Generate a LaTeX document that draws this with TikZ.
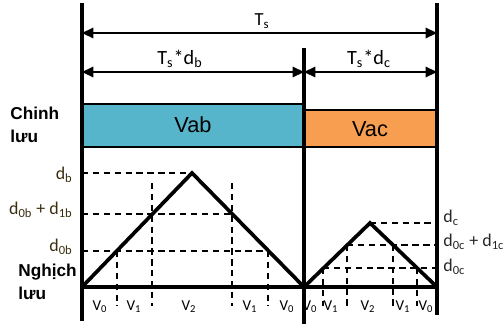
\documentclass[tikz,border=0pt]{standalone}
\usepackage{fontspec}
\setmainfont{Carlito}
\newfontfamily\arialfont{Liberation Sans}
\usepackage{xcolor}
\usetikzlibrary{arrows.meta, positioning, calc}

\definecolor{vabblue}{HTML}{56B4CB}
\definecolor{vacorange}{HTML}{F79E51}
\definecolor{dbrown}{HTML}{3A2E0E}
\definecolor{dgray}{HTML}{262626}

\begin{document}
\begin{tikzpicture}[
    x=0.02cm, y=-0.02cm,
    axis/.style={line width=2.1pt},
    tri/.style={line width=2.1pt, line join=miter},
    guide/.style={line width=0.8pt, dash pattern=on 3.6pt off 2.6pt},
    dim/.style={{Triangle[length=6.5pt,width=6pt]}-{Triangle[length=6.5pt,width=6pt]}, line width=0.9pt},
    vbox/.style={draw, line width=1.2pt},
    rowlbl/.style={font=\arialfont\bfseries\fontsize{9.8}{13.4}\selectfont, align=left, anchor=west, inner sep=0pt},
    dlbl/.style={font=\fontsize{10.2}{11}\selectfont, inner sep=0pt},
    vlbl/.style={font=\fontsize{8.6}{10}\selectfont, inner sep=0pt}
]
\useasboundingbox (0,0) rectangle (504,329);

% Boxes
\draw[vbox, fill=vabblue] (82,104) rectangle (304,147);
\draw[vbox, fill=vacorange] (304,110) rectangle (437,147);
\node[font=\arialfont\fontsize{12.4}{14}\selectfont] (vab) at (193,125) {Vab};
\node[font=\arialfont\fontsize{12.4}{14}\selectfont] (vac) at (370,129) {Vac};

% Main lines
\coordinate (ltop) at (82,3);
\coordinate (lbot) at (82,321);
\coordinate (rtop) at (437,3);
\coordinate (rbot) at (437,315);
\coordinate (mtop) at (304,48);
\coordinate (mbot) at (304,324);
\draw[axis] (ltop) -- (lbot);
\draw[axis] (rtop) -- (rbot);
\draw[axis] (mtop) -- (mbot);

% Dimension arrows
\coordinate (tsl) at (82,33);
\coordinate (tsr) at (437,33);
\coordinate (dbl) at (82,72);
\coordinate (dbr) at (304,72);
\coordinate (dcr) at (437,72);
\draw[dim] (tsl) -- (tsr);
\draw[dim] (dbl) -- (dbr);
\draw[dim] (dbr) -- (dcr);
\node[font=\fontsize{10.5}{12}\selectfont] (ts) at (262,21) {T\textsubscript{s}};
\node[font=\fontsize{11.5}{13}\selectfont] (tsdb) at (180,59) {T\textsubscript{s}*d\textsubscript{b}};
\node[font=\fontsize{11.5}{13}\selectfont] (tsdc) at (369,59) {T\textsubscript{s}*d\textsubscript{c}};

% Row labels
\node[rowlbl] (chinh) at (10,125) {Chinh\\lưu};
\node[rowlbl] (nghich) at (18,282) {Nghịch\\lưu};

% Triangles
\coordinate (b0) at (82,287);
\coordinate (bpk) at (192,173);
\coordinate (b1) at (304,287);
\coordinate (cpk) at (370,223);
\coordinate (c1) at (437,287);
\draw[guide] (82,173) -- (bpk);
\draw[guide] (82,214) -- (232,214);
\draw[guide] (82,251) -- (268,251);
\draw[guide] (cpk) -- (437,223);
\draw[guide] (347,245) -- (437,245);
\draw[guide] (323,268) -- (437,268);
\foreach \xx/\yy in {117/251, 152/183, 232/183, 268/251, 323/268, 347/245, 393/245, 417/268}
    \draw[guide] (\xx,\yy) -- (\xx,306);
\draw[axis] (b0) -- (c1);
\draw[tri] (b0) -- (bpk) -- (b1) -- (cpk) -- (c1);

% Duty labels
\node[dlbl, color=dbrown, anchor=east] (db) at (73,175) {d\textsubscript{b}};
\node[dlbl, color=dbrown, anchor=east] (dsumb) at (73,210) {d\textsubscript{0b} + d\textsubscript{1b}};
\node[dlbl, color=dbrown, anchor=east] (d0b) at (73,247) {d\textsubscript{0b}};
\node[dlbl, color=dgray, anchor=west] (dc) at (443,218) {d\textsubscript{c}};
\node[dlbl, color=dgray, anchor=west] (dsumc) at (443,242) {d\textsubscript{0c} + d\textsubscript{1c}};
\node[dlbl, color=dgray, anchor=west] (d0c) at (443,267) {d\textsubscript{0c}};

% Vector labels
\foreach \xx/\vv in {100/0, 134/1, 189/2, 250/1, 287/0, 310/0, 331/1, 368/2, 403/1, 426/0}
    \node[vlbl] at (\xx,307) {V\textsubscript{\vv}};

\end{tikzpicture}
\end{document}
